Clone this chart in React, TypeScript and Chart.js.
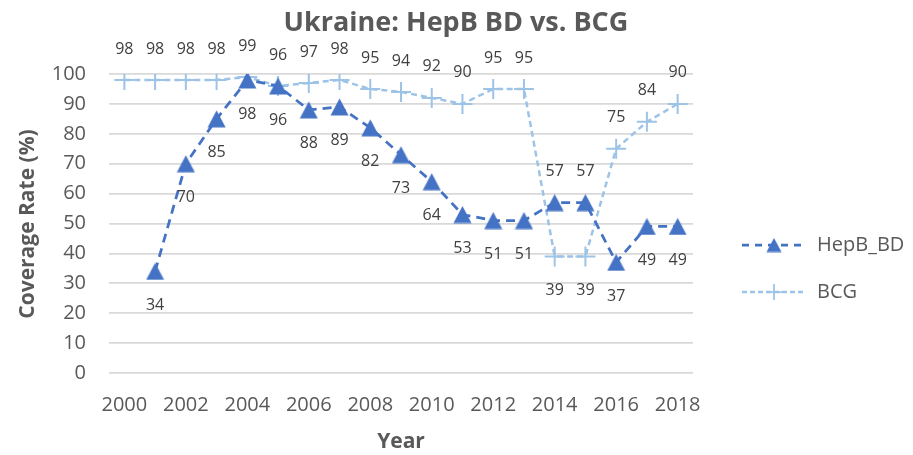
import { useEffect, useRef } from "react";
import { Chart, registerables } from "chart.js";
Chart.register(...registerables);

const years = ["2000","2001","2002","2003","2004","2005","2006","2007","2008","2009","2010","2011","2012","2013","2014","2015","2016","2017","2018"];
const hepbBD: (number | null)[] = [null, 34, 70, 85, 98, 96, 88, 89, 82, 73, 64, 53, 51, 51, 57, 57, 37, 49, 49];
const bcg: number[] = [98, 98, 98, 98, 99, 96, 97, 98, 95, 94, 92, 90, 95, 95, 39, 39, 75, 84, 90];
const xTickLabels = ["2000","2002","2004","2006","2008","2010","2012","2014","2016","2018"];
const yTicks = [0, 10, 20, 30, 40, 50, 60, 70, 80, 90, 100];
const titleText = "Ukraine: HepB BD vs. BCG";
const yTitle = "Coverage Rate (%)";
const xTitle = "Year";
const seriesNames = ["HepB_BD", "BCG"];

const FONT = "'Open Sans', 'DejaVu Sans', sans-serif";
const HEPB_COLOR = "#4472C4";
const BCG_COLOR = "#9DC3E6";
const TEXT = "#595959";
const LABEL = "#404040";

function makeTriangle(w: number, h: number): HTMLCanvasElement {
  const c = document.createElement("canvas");
  c.width = w;
  c.height = h;
  const ctx = c.getContext("2d")!;
  ctx.fillStyle = HEPB_COLOR;
  ctx.beginPath();
  ctx.moveTo(w / 2, 0.5);
  ctx.lineTo(w - 0.5, h - 0.5);
  ctx.lineTo(0.5, h - 0.5);
  ctx.closePath();
  ctx.fill();
  return c;
}

export default function App() {
  const ref = useRef<HTMLCanvasElement | null>(null);
  useEffect(() => {
    document.body.style.margin = "0";
    const tri = makeTriangle(19, 18);
    const triSmall = makeTriangle(16, 15);

    const labelsPlugin = {
      id: "pointLabels",
      afterDatasetsDraw(chart: any) {
        const ctx = chart.ctx;
        ctx.save();
        ctx.font = `16px ${FONT}`;
        ctx.fillStyle = LABEL;
        ctx.textAlign = "center";
        ctx.textBaseline = "middle";
        chart.data.datasets.forEach((ds: any, di: number) => {
          const meta = chart.getDatasetMeta(di);
          const other = chart.data.datasets[1 - di].data;
          ds.data.forEach((v: number | null, i: number) => {
            if (v === null || v === undefined) return;
            const pt = meta.data[i];
            const o = other[i];
            let above: boolean;
            if (di === 0) above = o !== null && o !== undefined ? v > o : true;
            else above = o !== null && o !== undefined ? v >= o : true;
            const y = above ? pt.y - 31 : pt.y + 34;
            ctx.fillText(String(v), pt.x, y);
          });
        });
        ctx.restore();
      },
    };

    const decorPlugin = {
      id: "decor",
      afterDraw(chart: any) {
        const ctx = chart.ctx;
        const ca = chart.chartArea;
        ctx.save();
        ctx.fillStyle = TEXT;
        ctx.textAlign = "center";
        ctx.textBaseline = "middle";
        ctx.font = `bold 27px ${FONT}`;
        ctx.fillText(titleText, 456, 23);
        ctx.font = `bold 21px ${FONT}`;
        ctx.fillText(xTitle, (ca.left + ca.right) / 2, 442);
        ctx.save();
        ctx.translate(28, 224);
        ctx.rotate(-Math.PI / 2);
        ctx.fillText(yTitle, 0, 0);
        ctx.restore();

        // legend
        const items = [
          { name: seriesNames[0], y: 245, color: HEPB_COLOR, dash: [7, 6], lw: 2.75 },
          { name: seriesNames[1], y: 292, color: BCG_COLOR, dash: [5, 3], lw: 2.5 },
        ];
        items.forEach((it, k) => {
          ctx.save();
          ctx.strokeStyle = it.color;
          ctx.lineWidth = it.lw;
          ctx.setLineDash(it.dash);
          ctx.beginPath();
          ctx.moveTo(742, it.y);
          ctx.lineTo(806, it.y);
          ctx.stroke();
          ctx.setLineDash([]);
          if (k === 0) {
            ctx.drawImage(triSmall, 774 - 8, it.y - 7.5);
          } else {
            ctx.lineWidth = 1.75;
            ctx.beginPath();
            ctx.moveTo(774 - 8, it.y);
            ctx.lineTo(774 + 8, it.y);
            ctx.moveTo(774, it.y - 8);
            ctx.lineTo(774, it.y + 8);
            ctx.stroke();
          }
          ctx.restore();
          ctx.font = `20px ${FONT}`;
          ctx.fillStyle = TEXT;
          ctx.textAlign = "left";
          ctx.fillText(it.name, 817, it.y);
        });
        ctx.restore();
      },
    };

    const chart = new Chart(ref.current!, {
      type: "line",
      data: {
        labels: years,
        datasets: [
          {
            label: seriesNames[0],
            data: hepbBD,
            borderColor: HEPB_COLOR,
            backgroundColor: HEPB_COLOR,
            borderWidth: 2.75,
            borderDash: [9, 6],
            pointStyle: tri as any,
            pointRadius: 9,
            tension: 0,
            fill: false,
          },
          {
            label: seriesNames[1],
            data: bcg,
            borderColor: BCG_COLOR,
            backgroundColor: BCG_COLOR,
            borderWidth: 2.5,
            borderDash: [6, 4],
            pointStyle: "cross",
            pointRadius: 10,
            pointBorderWidth: 2,
            tension: 0,
            fill: false,
          },
        ],
      },
      options: {
        animation: false,
        responsive: true,
        maintainAspectRatio: false,
        layout: { padding: { top: 74, right: 220, left: 0, bottom: 0 } },
        plugins: {
          legend: { display: false },
          title: { display: false },
          tooltip: { enabled: false },
        },
        scales: {
          x: {
            type: "category",
            offset: true,
            grid: { display: false },
            border: { display: false },
            ticks: {
              autoSkip: false,
              maxRotation: 0,
              minRotation: 0,
              color: TEXT,
              font: { family: FONT, size: 20 },
              padding: 12,
              callback: (_v: any, idx: number) =>
                xTickLabels.includes(years[idx]) ? years[idx] : "",
            },
            afterFit: (s: any) => {
              s.height = 82;
            },
          },
          y: {
            min: 0,
            max: 100,
            afterBuildTicks: (s: any) => {
              s.ticks = yTicks.map((v) => ({ value: v }));
            },
            grid: { color: "#d9d9d9", lineWidth: 1.75, drawTicks: false },
            border: { display: false },
            ticks: {
              color: TEXT,
              font: { family: FONT, size: 20 },
              padding: 23,
            },
            afterFit: (s: any) => {
              s.width = 109;
            },
          },
        },
      },
      plugins: [labelsPlugin, decorPlugin],
    });
    return () => chart.destroy();
  }, []);
  return (
    <div style={{ width: 913, height: 455, position: "relative" }}>
      <canvas ref={ref} />
    </div>
  );
}
